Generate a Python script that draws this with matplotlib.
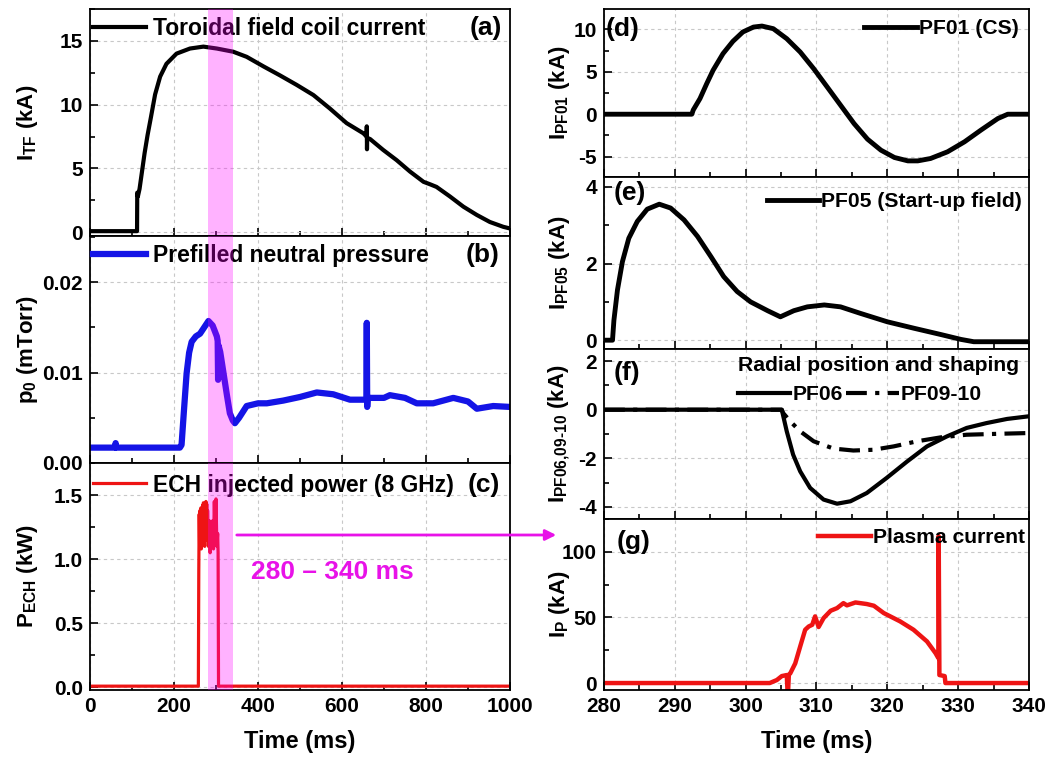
import matplotlib
matplotlib.use('Agg')
import matplotlib.pyplot as plt
from matplotlib.ticker import MultipleLocator, FormatStrFormatter

plt.rcParams.update({
    'font.family': ['Liberation Sans', 'DejaVu Sans'],
    'font.weight': 'bold',
    'axes.labelweight': 'bold',
    'mathtext.fontset': 'custom',
    'mathtext.rm': 'Liberation Sans:bold',
    'mathtext.it': 'Liberation Sans:bold',
    'mathtext.bf': 'Liberation Sans:bold',
    'axes.unicode_minus': False,
})

# ---------------- data ----------------
tf_t = [0, 112, 112.5, 114, 118, 124, 130, 137, 145, 155, 167, 182, 206, 238, 270, 302, 341, 373,
        413, 452, 492, 532, 571, 611, 651, 658.5, 659, 659.5, 660, 667, 698, 730, 762, 794, 810,
        825, 857, 889, 921, 952, 984, 1000]
tf_i = [0.08, 0.08, 3.1, 2.8, 3.4, 4.8, 6.2, 7.6, 9.0, 10.8, 12.2, 13.2, 14.0, 14.4, 14.55, 14.4,
        14.15, 13.75, 13.0, 12.3, 11.55, 10.75, 9.7, 8.55, 7.75, 7.5, 8.3, 6.5, 7.4, 7.3, 6.45,
        5.65, 4.75, 3.95, 3.75, 3.55, 2.8, 2.0, 1.35, 0.8, 0.42, 0.29]

p_t = [0, 60, 61, 62, 214, 218, 224, 230, 236, 242, 252, 262, 272, 282, 292, 302, 304, 305, 306,
       310, 318, 326, 333, 340, 345, 355, 373, 400, 421, 460, 500, 540, 579, 619, 658, 659, 660,
       661, 700, 714, 750, 778, 817, 865, 900, 921, 960, 1000]
p_v = [0.0017, 0.0017, 0.0022, 0.0017, 0.0017, 0.0020, 0.0060, 0.0099, 0.0122, 0.0134, 0.0140,
       0.0143, 0.0150, 0.0157, 0.0152, 0.0140, 0.0135, 0.0092, 0.0130, 0.0123, 0.0099, 0.0075,
       0.0055, 0.0047, 0.0044, 0.0050, 0.0063, 0.0066, 0.0066, 0.0069, 0.0073, 0.0078, 0.0076,
       0.0070, 0.0070, 0.0155, 0.0062, 0.0072, 0.0072, 0.0075, 0.0072, 0.0066, 0.0066, 0.0072,
       0.0068, 0.0060, 0.0063, 0.0062]

ech_t = [0, 258, 259, 260, 261, 262, 263, 264, 265, 266, 267, 268, 269, 270, 271, 272, 273, 274,
         275, 276, 277, 278, 279, 280, 282, 284, 286, 288, 290, 292, 294, 296, 298, 300, 302, 304,
         305, 306, 1000]
ech_p = [0.01, 0.01, 0.9, 1.35, 1.1, 1.38, 1.15, 1.40, 1.08, 1.32, 1.12, 1.42, 1.2, 1.44, 1.25,
         1.40, 1.1, 1.38, 1.18, 1.45, 1.22, 1.43, 1.15, 1.38, 1.1, 1.3, 1.05, 1.25, 1.12, 1.3, 1.08,
         1.45, 1.15, 1.47, 1.1, 1.2, 1.05, 0.01, 0.01]

pf01_t = [280, 292.4, 292.6, 293.55, 294.5, 295.4, 296.8, 298.2, 299.6, 301.1, 302.3, 303.9, 305.8,
          307.7, 309.6, 311.5, 313.4, 315.3, 317.2, 319.1, 321.0, 322.9, 324.3, 326.1, 328.5,
          330.9, 333.2, 335.6, 337.0, 340]
pf01_i = [0, 0, 0.5, 1.84, 3.6, 5.18, 7.14, 8.59, 9.69, 10.27, 10.39, 10.08, 8.9, 7.33, 5.37, 3.22,
          1.06, -1.1, -2.94, -4.24, -5.1, -5.5, -5.5, -5.22, -4.43, -3.25, -1.88, -0.51, 0, 0]

pf05_t = [280, 281.2, 281.4, 281.9, 282.6, 283.5, 284.7, 286.1, 287.8, 289.4, 291.3, 293.2,
          295.1, 296.9, 298.8, 300.7, 303.1, 304.9, 306.8, 308.7, 311.1, 313.4, 316.2, 320.0,
          323.8, 327.5, 330.4, 332.2, 340]
pf05_i = [0, 0, 0.52, 1.31, 2.05, 2.66, 3.1, 3.42, 3.55, 3.45, 3.14, 2.71, 2.18, 1.66, 1.27, 1.0,
          0.77, 0.61, 0.77, 0.87, 0.92, 0.87, 0.70, 0.48, 0.31, 0.15, 0.02, -0.04, -0.04]

pf06_t = [280, 305.1, 305.8, 306.7, 307.7, 309.1, 311.0, 312.9, 314.8, 317.1, 319.9, 322.8, 325.6,
          328.4, 331.2, 334.0, 336.9, 340]
pf06_i = [0, 0, -0.89, -1.85, -2.54, -3.22, -3.7, -3.87, -3.77, -3.43, -2.81, -2.13, -1.51, -1.1,
          -0.75, -0.55, -0.38, -0.27]

pf0910_t = [280, 305.1, 305.3, 306.3, 307.7, 309.6, 312.4, 315.2, 318.0, 320.9, 324.2, 327.5,
            331.2, 335.9, 340]
pf0910_i = [0, 0, -0.14, -0.48, -0.89, -1.3, -1.6, -1.68, -1.65, -1.51, -1.3, -1.14, -1.03, -0.99,
            -0.96]

ip_t = [280, 303.4, 304.4, 305.1, 305.8, 305.9, 306.0, 306.1, 306.3, 307.0, 307.7, 308.4, 308.9,
        309.4, 309.8, 310.3, 311.0, 312.0, 312.9, 313.8, 314.3, 315.5, 317.1, 318.1, 319.5, 321.8,
        323.7, 325.6, 326.8, 327.2, 327.25, 327.35, 328.1, 328.2, 340]
ip_i = [0, 0, 2.3, 5.3, 6.1, -5, -5, 6.5, 7.4, 15, 27.9, 40.6, 43.1, 44.4, 50.8, 42.7, 49.5, 55.1,
        57.1, 60.9, 59.2, 61.4, 60.2, 58.9, 53.3, 47, 40.6, 31.7, 22.8, 19, 112, 6.1, 5.3, 0, 0]

shade_range = [280, 340]

# ---------------- figure ----------------
W, H = 1054, 766
fig = plt.figure(figsize=(W / 100, H / 100), dpi=100)


def fx(px):
    return px / W


def fy(py):
    return 1 - py / H


def mkax(x0, x1, y0, y1, sharex=None):
    return fig.add_axes([fx(x0), fy(y1), fx(x1) - fx(x0), fy(y0) - fy(y1)], sharex=sharex)


axa = mkax(90, 510, 9, 236)
axb = mkax(90, 510, 236, 463, sharex=axa)
axc = mkax(90, 510, 463, 690, sharex=axa)
axd = mkax(604, 1029, 9, 177)
axe = mkax(604, 1029, 177, 349, sharex=axd)
axf = mkax(604, 1029, 349, 519, sharex=axd)
axg = mkax(604, 1029, 519, 690, sharex=axd)

RED = '#ee1414'
BLUE = '#1414e6'
MAG = '#e812e8'


def style(ax, maj, mnr, xmaj, xmnr):
    ax.yaxis.set_major_locator(MultipleLocator(maj))
    ax.yaxis.set_minor_locator(MultipleLocator(mnr))
    ax.xaxis.set_major_locator(MultipleLocator(xmaj))
    ax.xaxis.set_minor_locator(MultipleLocator(xmnr))
    ax.tick_params(which='both', direction='in', top=False, right=False, width=1.2,
                   labelsize=15, pad=5)
    ax.tick_params(which='major', length=6)
    ax.tick_params(which='minor', length=3.5)
    ax.grid(True, which='major', linestyle=(0, (3, 3)), color='#c8c8c8', linewidth=0.8)
    ax.set_axisbelow(True)
    for s in ax.spines.values():
        s.set_linewidth(1.3)


for ax, mj, mn in [(axa, 5, 2.5), (axb, 0.01, 0.005), (axc, 0.5, 0.25)]:
    style(ax, mj, mn, 200, 100)
for ax, mj, mn in [(axd, 5, 2.5), (axe, 2, 1), (axf, 2, 1), (axg, 50, 25)]:
    style(ax, mj, mn, 10, 5)

# left panels
axa.plot(tf_t, tf_i, color='black', lw=3, label='Toroidal field coil current')
axb.plot(p_t, p_v, color=BLUE, lw=4.5, label='Prefilled neutral pressure')
axc.plot(ech_t, ech_p, color=RED, lw=2.3, label='ECH injected power (8 GHz)')

axa.set_xlim(0, 1000)
axa.set_ylim(-0.3, 17.5)
axb.set_ylim(0, 0.0251)
axc.set_ylim(-0.02, 1.75)
axb.yaxis.set_major_formatter(FormatStrFormatter('%.2f'))
axc.yaxis.set_major_formatter(FormatStrFormatter('%.1f'))

for ax in (axa, axb):
    ax.tick_params(labelbottom=False)
for ax in (axa, axb, axc):
    ax.axvspan(shade_range[0], shade_range[1], color='#ff00ff', alpha=0.3, lw=0, zorder=10)

axa.set_ylabel(r'I$_{\rm TF}$ (kA)', fontsize=16)
axb.set_ylabel(r'p$_{\rm 0}$ (mTorr)', fontsize=16)
axc.set_ylabel(r'P$_{\rm ECH}$ (kW)', fontsize=16)
axc.set_xlabel('Time (ms)', fontsize=17, labelpad=10)
for ax in (axa, axb, axc):
    ax.yaxis.set_label_coords(-0.12, 0.5)

leg_l = dict(frameon=False, fontsize=16.5, handlelength=2.3, borderpad=0, borderaxespad=0)
leg_r = dict(frameon=False, fontsize=15.2, handlelength=2.5, borderpad=0, borderaxespad=0)
axa.legend(loc='center left', bbox_to_anchor=(0.008, 0.916), handletextpad=0.3, **leg_l)
axb.legend(loc='center left', bbox_to_anchor=(0.008, 0.916), handletextpad=0.3, **leg_l)
axc.legend(loc='center left', bbox_to_anchor=(0.008, 0.903), handletextpad=0.3, **leg_l)
axa.text(0.98, 0.916, '(a)', transform=axa.transAxes, ha='right', va='center', fontsize=19)
axb.text(0.976, 0.916, '(b)', transform=axb.transAxes, ha='right', va='center', fontsize=19)
axc.text(0.976, 0.903, '(c)', transform=axc.transAxes, ha='right', va='center', fontsize=19)

# right panels
axd.plot(pf01_t, pf01_i, color='black', lw=3.5, label='PF01 (CS)')
axe.plot(pf05_t, pf05_i, color='black', lw=3.5, label='PF05 (Start-up field)')
l1, = axf.plot(pf06_t, pf06_i, color='black', lw=3.0, label='PF06')
l2, = axf.plot(pf0910_t, pf0910_i, color='black', lw=3.0, linestyle=(0, (5, 2, 1, 2)),
               label='PF09-10')
axg.plot(ip_t, ip_i, color=RED, lw=3.2, label='Plasma current')

axd.set_xlim(280, 340)
axd.set_ylim(-7.4, 12.4)
axe.set_ylim(-0.23, 4.26)
axf.set_ylim(-4.5, 2.5)
axg.set_ylim(-5.3, 125)
for ax in (axd, axe, axf):
    ax.tick_params(labelbottom=False)

axd.set_ylabel(r'I$_{\rm PF01}$ (kA)', fontsize=16)
axe.set_ylabel(r'I$_{\rm PF05}$ (kA)', fontsize=16)
axf.set_ylabel(r'I$_{\rm PF06{,}09\text{-}10}$ (kA)', fontsize=16)
axg.set_ylabel(r'I$_{\rm P}$ (kA)', fontsize=16)
axg.set_xlabel('Time (ms)', fontsize=17, labelpad=10)
for ax in (axd, axe, axf, axg):
    ax.yaxis.set_label_coords(-0.075, 0.5)

axd.legend(loc='center right', bbox_to_anchor=(0.975, 0.881), handletextpad=0.1, **leg_r)
axe.legend(loc='center right', bbox_to_anchor=(0.984, 0.855), handletextpad=0.1, **leg_r)
axf.legend(handles=[l1, l2], loc='upper right', bbox_to_anchor=(0.976, 0.96), ncol=2,
           title='Radial position and shaping',
           title_fontproperties={'size': 15.2, 'weight': 'bold'},
           handletextpad=0.1, columnspacing=0.15, alignment='left', **leg_r)
axg.legend(loc='center right', bbox_to_anchor=(0.99, 0.889), handletextpad=0.1, **leg_r)

axd.text(0.003, 0.881, '(d)', transform=axd.transAxes, ha='left', va='center', fontsize=19)
axe.text(0.022, 0.907, '(e)', transform=axe.transAxes, ha='left', va='center', fontsize=19)
axf.text(0.022, 0.859, '(f)', transform=axf.transAxes, ha='left', va='center', fontsize=19)
axg.text(0.030, 0.865, '(g)', transform=axg.transAxes, ha='left', va='center', fontsize=19)

# arrow and annotation
fig.patches.append(matplotlib.patches.FancyArrowPatch(
    (fx(234), fy(535)), (fx(559), fy(535)), transform=fig.transFigure,
    arrowstyle='-|>', mutation_scale=16, color=MAG, lw=2))
fig.text(fx(332), fy(572), '280 – 340 ms', color=MAG, fontsize=19, ha='center', va='center',
         fontweight='bold')

fig.savefig('out.png', dpi=100)
